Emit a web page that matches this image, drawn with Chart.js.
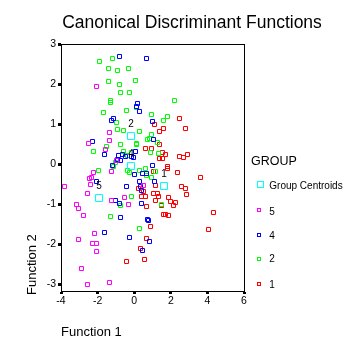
<!DOCTYPE html>
<html>
<head>
<meta charset="utf-8">
<script src="https://cdn.jsdelivr.net/npm/chart.js@4"></script>
<style>
  html, body { margin: 0; padding: 0; background: #fff; }
  #wrap { width: 354px; height: 356px; position: relative; }
</style>
</head>
<body>
<div id="wrap"><canvas id="c" width="354" height="356"></canvas></div>
<script>
// ---- Data ----
const chartTitle = 'Canonical Discriminant Functions';
const xAxisTitle = 'Function 1';
const yAxisTitle = 'Function 2';
const legendTitle = 'GROUP';
const groupNames = ['Group Centroids', '5', '4', '2', '1'];
const groupColors = ['#00FFFF', '#FF00FF', '#0000FF', '#00FF00', '#FF0000'];

const xTicks = [-4, -2, 0, 2, 4, 6];
const yTicks = [-3, -2, -1, 0, 1, 2, 3];

// Group centroids (order: 2, 4, 5, 1)
const centroidLabels = ['2', '4', '5', '1'];
const centroidX = [-0.20, -0.18, -1.93, 1.62];
const centroidY = [0.71, -0.05, -0.84, -0.54];

// Group 1 (red)
const g1X = [2.45, 1.11, 1.58, 1.37, 2.82, 1.37, 0.60, 0.93, 1.55, 1.73, 1.40, 1.55, 2.49, 2.68, 2.91, 1.81,
             1.81, 1.07, 2.37, 3.62, 1.14, 0.23, 0.49, 2.56, 2.78, 2.86, 1.07, 1.25, 1.31, 0.42, 0.60, 1.18,
             1.85, 1.99, 2.25, 2.13, 1.47, 0.66, 1.59, 1.70, 1.90, 4.31, 0.87, 4.04, 0.65, 0.35, 0.54, -0.44];
const g1Y = [1.15, 0.98, 0.90, 0.82, 0.90, 0.50, 0.39, 0.40, 0.28, 0.24, 0.13, 0.14, 0.18, 0.17, 0.23, -0.06,
             -0.12, -0.18, -0.21, -0.34, -0.53, -0.61, -0.68, -0.56, -0.61, -0.75, -0.73, -0.73, -0.82, -0.81, -0.80, -0.91,
             -0.84, -0.93, -0.95, -1.04, -1.04, -1.07, -1.25, -1.26, -1.29, -1.20, -1.57, -1.63, -1.87, -2.12, -2.38, -2.44];

// Group 2 (green)
const g2X = [-1.91, -1.20, -1.38, -0.91, -0.33, -1.38, -0.78, 0.06, -0.73, -0.27, -1.31, -1.31, 2.18, 0.11, -0.43, -1.69,
             0.96, 1.81, 1.58, -0.99, -0.93, -0.60, 0.27, 0.92, 0.70, 0.82, 1.29, -0.73, 0.11, 0.13, -1.52, -2.23,
             -0.60, 0.87, 1.33, -0.38, -0.15, -0.13, -1.03, -0.96, -1.11, -1.96, -0.37, -0.24, 0.27, 0.64, 0.65, 0.95,
             1.18, -0.13, -0.73, 1.47, -1.31, 0.27];
const g2Y = [2.57, 2.63, 2.38, 2.33, 2.38, 2.07, 1.98, 2.10, 1.79, 1.79, 1.60, 1.54, 1.59, 1.42, 1.34, 1.29,
             1.23, 1.20, 1.09, 1.03, 0.86, 0.83, 0.81, 0.73, 0.62, 0.64, 0.55, 0.48, 0.52, 0.48, 0.43, 0.31,
             0.31, 0.28, 0.27, 0.21, 0.28, 0.18, 0.03, 0.09, -0.06, -0.16, -0.16, -0.22, -0.17, -0.12, -0.28, -0.34,
             -0.18, -0.80, -1.04, -1.02, -1.31, -1.62];

// Group 4 (blue)
const g4X = [-0.79, 0.65, 0.16, 0.13, 0.27, -1.22, -1.15, 1.00, 1.07, -2.28, -1.62, 0.09, -0.85, -0.66, -0.45, -0.14,
             -0.06, -0.93, -0.73, -1.20, 1.02, 0.01, 0.44, -2.05, 0.31, 0.35, 0.40, -0.44, 1.13, -1.03, -0.78, 0.40,
             -0.73, 0.71, 0.77, -1.64, -0.24, 0.86, 0.46, 0.68];
const g4Y = [2.68, 2.63, 1.51, 1.44, 1.31, 1.09, 1.13, 1.06, 0.61, 0.56, 0.25, 0.31, 0.21, 0.25, 0.20, 0.19,
             0.17, 0.11, 0.08, -0.04, -0.03, -0.27, -0.24, -0.43, -0.44, -0.56, -0.67, -0.57, -0.44, -0.90, -0.98, -0.98,
             -1.34, -1.38, -1.42, -1.72, -1.84, -1.93, -2.15, -0.23];

// Group 5 (magenta)
const g5X = [-2.05, -1.34, -1.34, -2.51, -1.59, -0.95, -2.25, -1.22, -2.45, -2.36, -2.37, -3.82, -2.57, -1.23, -0.55, -0.33,
             0.49, -3.14, -3.03, -2.75, -2.18, -3.06, -2.29, -2.05, -2.05, -2.87, -2.57, -1.33];
const g5Y = [1.95, 0.78, 0.59, 0.52, 0.36, 0.09, -0.21, -0.18, -0.35, -0.33, -0.51, -0.56, -0.74, -0.91, -0.84, -1.02,
             -0.53, -1.02, -1.12, -1.29, -1.73, -1.88, -1.98, -1.98, -2.18, -2.62, -3.01, -2.95];

const axisMinX = -4, axisMaxX = 6, axisMinY = -3.17, axisMaxY = 3;

// ---- Build datasets ----
function pts(xs, ys) { return xs.map((x, i) => ({ x: x, y: ys[i] })); }
const seriesData = [pts(centroidX, centroidY), pts(g5X, g5Y), pts(g4X, g4Y), pts(g2X, g2Y), pts(g1X, g1Y)];

const FONT = "'Liberation Sans', Arial, sans-serif";
Chart.defaults.font.family = FONT;
Chart.defaults.color = '#000';

// rect point: half-side = r * SQRT1_2
const SMALL_R = 2 * Math.SQRT2;     // 5px outer square
const BIG_R = 3.5 * Math.SQRT2;     // 8px outer square

const datasets = seriesData.map((d, i) => ({
  label: groupNames[i],
  data: d,
  pointStyle: 'rect',
  pointRadius: i === 0 ? BIG_R : SMALL_R,
  pointHoverRadius: i === 0 ? BIG_R : SMALL_R,
  borderColor: groupColors[i],
  backgroundColor: 'rgba(0,0,0,0)',
  pointBorderWidth: 1,
  showLine: false
}));

// ---- Custom drawing: pixel snapping, title, frame, centroid labels, legend ----
const extrasPlugin = {
  id: 'extras',
  beforeDatasetsDraw(chart) {
    // snap marker centres so 1px outlines render crisply
    chart.data.datasets.forEach((ds, i) => {
      const meta = chart.getDatasetMeta(i);
      meta.data.forEach(el => {
        if (i === 0) { el.x = Math.round(el.x); el.y = Math.round(el.y); }
        else { el.x = Math.floor(el.x) + 0.5; el.y = Math.floor(el.y) + 0.5; }
      });
    });
  },
  afterDatasetsDraw(chart) {
    const ctx = chart.ctx;
    const meta = chart.getDatasetMeta(0);
    ctx.save();
    ctx.fillStyle = '#000';
    ctx.font = '10px ' + FONT;
    ctx.textAlign = 'center';
    ctx.textBaseline = 'middle';
    meta.data.forEach((el, i) => {
      ctx.fillText(centroidLabels[i], el.x, el.y - 12);
    });
    ctx.restore();
  },
  afterDraw(chart) {
    const ctx = chart.ctx;
    const a = chart.chartArea;
    ctx.save();
    // frame: top and right lines
    ctx.strokeStyle = '#000';
    ctx.lineWidth = 1;
    ctx.beginPath();
    ctx.moveTo(a.left, Math.round(a.top) + 0.5);
    ctx.lineTo(a.right + 1, Math.round(a.top) + 0.5);
    ctx.moveTo(Math.round(a.right) + 0.5, a.top);
    ctx.lineTo(Math.round(a.right) + 0.5, a.bottom);
    ctx.stroke();

    // title
    ctx.fillStyle = '#000';
    ctx.font = '17.5px ' + FONT;
    ctx.textAlign = 'center';
    ctx.textBaseline = 'alphabetic';
    ctx.fillText(chartTitle, 192, 28);

    // y axis title (rotated, starting at the bottom)
    ctx.save();
    ctx.translate(36, 295);
    ctx.rotate(-Math.PI / 2);
    ctx.font = '13px ' + FONT;
    ctx.textAlign = 'left';
    ctx.textBaseline = 'alphabetic';
    ctx.fillText(yAxisTitle, 0, 0);
    ctx.restore();

    // legend
    ctx.textAlign = 'left';
    ctx.font = '12.5px ' + FONT;
    ctx.fillText(legendTitle, 251, 165);
    const rows = [
      { box: [257.5, 181.5, 6, 6], base: 188.7 },
      { box: [257.5, 208.5, 3, 3], base: 215 },
      { box: [257.5, 233.5, 3, 3], base: 239 },
      { box: [257.5, 257.5, 3, 3], base: 262.3 },
      { box: [257.5, 282.5, 3, 3], base: 287.7 }
    ];
    chart.data.datasets.forEach((ds, i) => {
      const r = rows[i];
      ctx.strokeStyle = ds.borderColor;
      ctx.lineWidth = 1;
      ctx.strokeRect(r.box[0], r.box[1], r.box[2], r.box[3]);
      ctx.fillStyle = '#000';
      ctx.font = '10px ' + FONT;
      ctx.fillText(ds.label, 269.3, r.base);
    });
    ctx.restore();
  }
};

new Chart(document.getElementById('c'), {
  type: 'scatter',
  data: { datasets: datasets },
  options: {
    responsive: false,
    animation: false,
    devicePixelRatio: 1,
    events: [],
    layout: { padding: { top: 44, right: 110, left: 0, bottom: 0 } },
    plugins: {
      legend: { display: false },
      title: { display: false },
      tooltip: { enabled: false }
    },
    scales: {
      x: {
        type: 'linear',
        min: axisMinX,
        max: axisMaxX,
        afterBuildTicks(scale) { scale.ticks = xTicks.map(v => ({ value: v })); },
        afterFit(scale) { scale.height = 65; },
        ticks: { color: '#000', font: { size: 10.5 }, padding: 1, maxRotation: 0, autoSkip: false },
        grid: { display: true, drawOnChartArea: false, drawTicks: true, tickLength: 3, tickWidth: 3, tickColor: '#000' },
        border: { display: true, color: '#000', width: 1 },
        title: { display: true, text: xAxisTitle, align: 'start', color: '#000', font: { size: 13 }, padding: { top: 0, bottom: 16 } }
      },
      y: {
        type: 'linear',
        min: axisMinY,
        max: axisMaxY,
        afterBuildTicks(scale) { scale.ticks = yTicks.map(v => ({ value: v })); },
        afterFit(scale) { scale.width = 61; },
        ticks: { color: '#000', font: { size: 10.5 }, padding: 2, autoSkip: false },
        grid: { display: true, drawOnChartArea: false, drawTicks: true, tickLength: 3, tickWidth: 3, tickColor: '#000' },
        border: { display: true, color: '#000', width: 1 },
        title: { display: false }
      }
    }
  },
  plugins: [extrasPlugin]
});
</script>
</body>
</html>
